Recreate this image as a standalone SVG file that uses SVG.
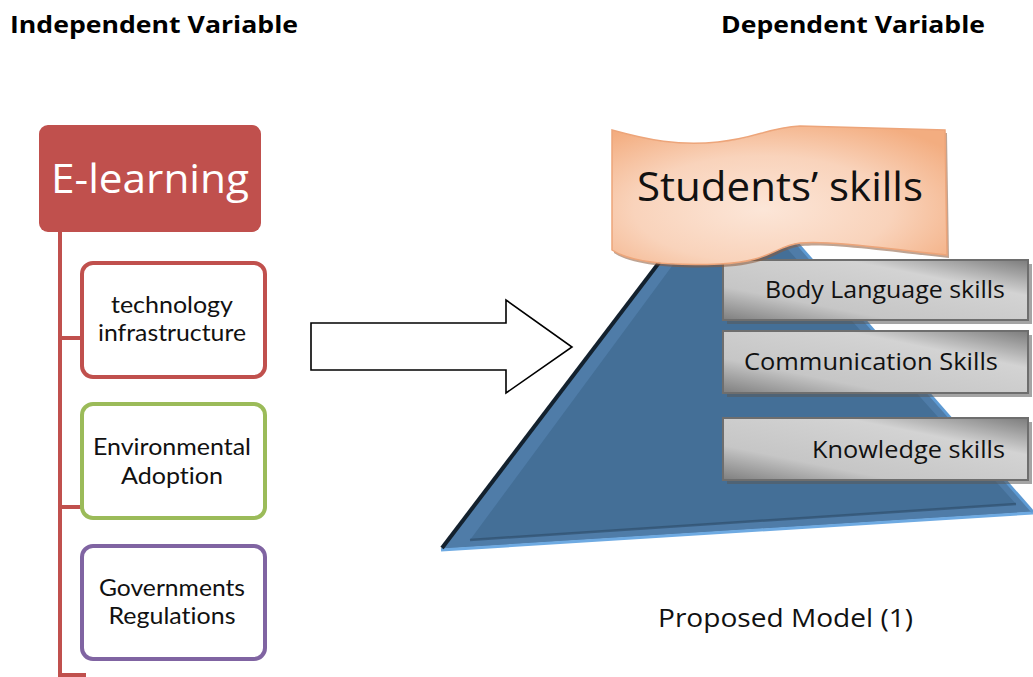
<svg xmlns="http://www.w3.org/2000/svg" width="1033" height="677" viewBox="0 0 1033 677">
<defs>
<linearGradient id="gray" x1="0" y1="1" x2="1" y2="0">
<stop offset="0" stop-color="#7f7f7f"/>
<stop offset="0.28" stop-color="#c6c6c6"/>
<stop offset="0.7" stop-color="#d3d3d3"/>
<stop offset="1" stop-color="#7c7c7c"/>
</linearGradient>
<radialGradient id="peach" cx="0.45" cy="0.6" r="0.7">
<stop offset="0" stop-color="#fce6d8"/>
<stop offset="0.55" stop-color="#f9d3bb"/>
<stop offset="1" stop-color="#f3ad80"/>
</radialGradient>
<style>
.t{font-family:"Open Sans","Noto Sans","Liberation Sans",sans-serif;fill:#111}
.h{font-family:"Open Sans","Liberation Sans",sans-serif;font-weight:bold;font-size:23px;fill:#000}
.sub{fill:#fff;stroke-width:4}
.skill{fill:url(#gray);stroke:#6e6e6e;stroke-width:2}
.shadow{fill:#5a5a5a;opacity:0.55}
.tree{stroke:#c0504d;stroke-width:4;fill:none}
.st{font-family:Lato,"Liberation Sans",sans-serif;font-size:23px;fill:#111;font-variant-ligatures:none;font-feature-settings:"liga" 0}
</style>
</defs>
<rect width="1033" height="677" fill="#fff"/>

<text class="h" x="10" y="33" textLength="288" lengthAdjust="spacingAndGlyphs">Independent Variable</text>
<text class="h" x="721" y="33" textLength="264" lengthAdjust="spacingAndGlyphs">Dependent Variable</text>

<g id="connectors">
<path class="tree" d="M60,232 V675 H86 M60,338 H82 M60,507 H82"/>
<polygon points="311,323 506,323 506,300 572,347 506,393 506,370 311,370" fill="#fff" stroke="#000" stroke-width="1.6"/>
</g>

<g id="elearning">
<rect x="39" y="125" width="222" height="107" rx="9" fill="#c0504d"/>
<text class="t" x="150" y="193" font-size="40" text-anchor="middle" style="fill:#fff" textLength="198" lengthAdjust="spacingAndGlyphs">E-learning</text>
</g>

<g id="technology">
<rect class="sub" x="82" y="263" width="183" height="114" rx="11" stroke="#c0504d"/>
<text class="st" x="172" y="313" text-anchor="middle" textLength="122" lengthAdjust="spacingAndGlyphs">technology</text>
<text class="st" x="172" y="341" text-anchor="middle" textLength="148" lengthAdjust="spacingAndGlyphs">infrastructure</text>
</g>

<g id="environmental">
<rect class="sub" x="82" y="404" width="183" height="114" rx="11" stroke="#9bbb59"/>
<text class="st" x="172" y="455" text-anchor="middle" textLength="158" lengthAdjust="spacingAndGlyphs">Environmental</text>
<text class="st" x="172" y="484" text-anchor="middle" textLength="102" lengthAdjust="spacingAndGlyphs">Adoption</text>
</g>

<g id="governments">
<rect class="sub" x="82" y="546" width="183" height="113" rx="11" stroke="#8064a2"/>
<text class="st" x="172" y="596" text-anchor="middle" textLength="146" lengthAdjust="spacingAndGlyphs">Governments</text>
<text class="st" x="172" y="624" text-anchor="middle" textLength="127" lengthAdjust="spacingAndGlyphs">Regulations</text>
</g>

<g id="pyramid">
<polygon points="731,168 1033,512 441,549" fill="#4f7ca8"/>
<polygon points="731,186 1016,504 470,540" fill="#446f97"/>
<line x1="470" y1="540" x2="1016" y2="504" stroke="#2c4a66" stroke-width="2.5" opacity="0.6"/>
<line x1="441" y1="550" x2="1033" y2="513" stroke="#6eaae2" stroke-width="3"/>
<line x1="731" y1="168" x2="1033" y2="512" stroke="#5d9ad3" stroke-width="3"/>
<line x1="442" y1="548" x2="731" y2="168" stroke="#13212e" stroke-width="4"/>
</g>

<g id="body-language">
<rect class="shadow" x="727" y="264" width="305" height="60"/>
<rect class="skill" x="723" y="260" width="305" height="60"/>
<text class="t" x="1005" y="298" font-size="24" text-anchor="end" textLength="240" lengthAdjust="spacingAndGlyphs">Body Language skills</text>
</g>

<g id="communication">
<rect class="shadow" x="727" y="335" width="305" height="62"/>
<rect class="skill" x="723" y="331" width="305" height="62"/>
<text class="t" x="744" y="370" font-size="24" textLength="254" lengthAdjust="spacingAndGlyphs">Communication Skills</text>
</g>

<g id="knowledge">
<rect class="shadow" x="727" y="422" width="305" height="62"/>
<rect class="skill" x="723" y="418" width="305" height="62"/>
<text class="t" x="1005" y="458" font-size="24" text-anchor="end" textLength="193" lengthAdjust="spacingAndGlyphs">Knowledge skills</text>
</g>

<g id="students-skills">
<path d="M614,133 C650,143 680,149 720,145 C760,141 768,131 802,129 L947,133 L949,258 C900,253 832,243 802,246 C777,249 772,265 722,267 C672,269 632,265 614,253 Z" fill="#8a5a3a" opacity="0.55"/>
<path d="M612,130 C648,140 678,146 718,142 C758,138 766,128 800,126 L945,130 L947,255 C898,250 830,240 800,243 C775,246 770,262 720,264 C670,266 630,262 612,250 Z" fill="url(#peach)" stroke="#eda57a" stroke-width="1.5"/>
<text class="t" x="637" y="201" font-size="40" textLength="286" lengthAdjust="spacingAndGlyphs">Students’ skills</text>
</g>

<text class="t" x="658" y="627" font-size="25" textLength="255" lengthAdjust="spacingAndGlyphs">Proposed Model (1)</text>
</svg>
